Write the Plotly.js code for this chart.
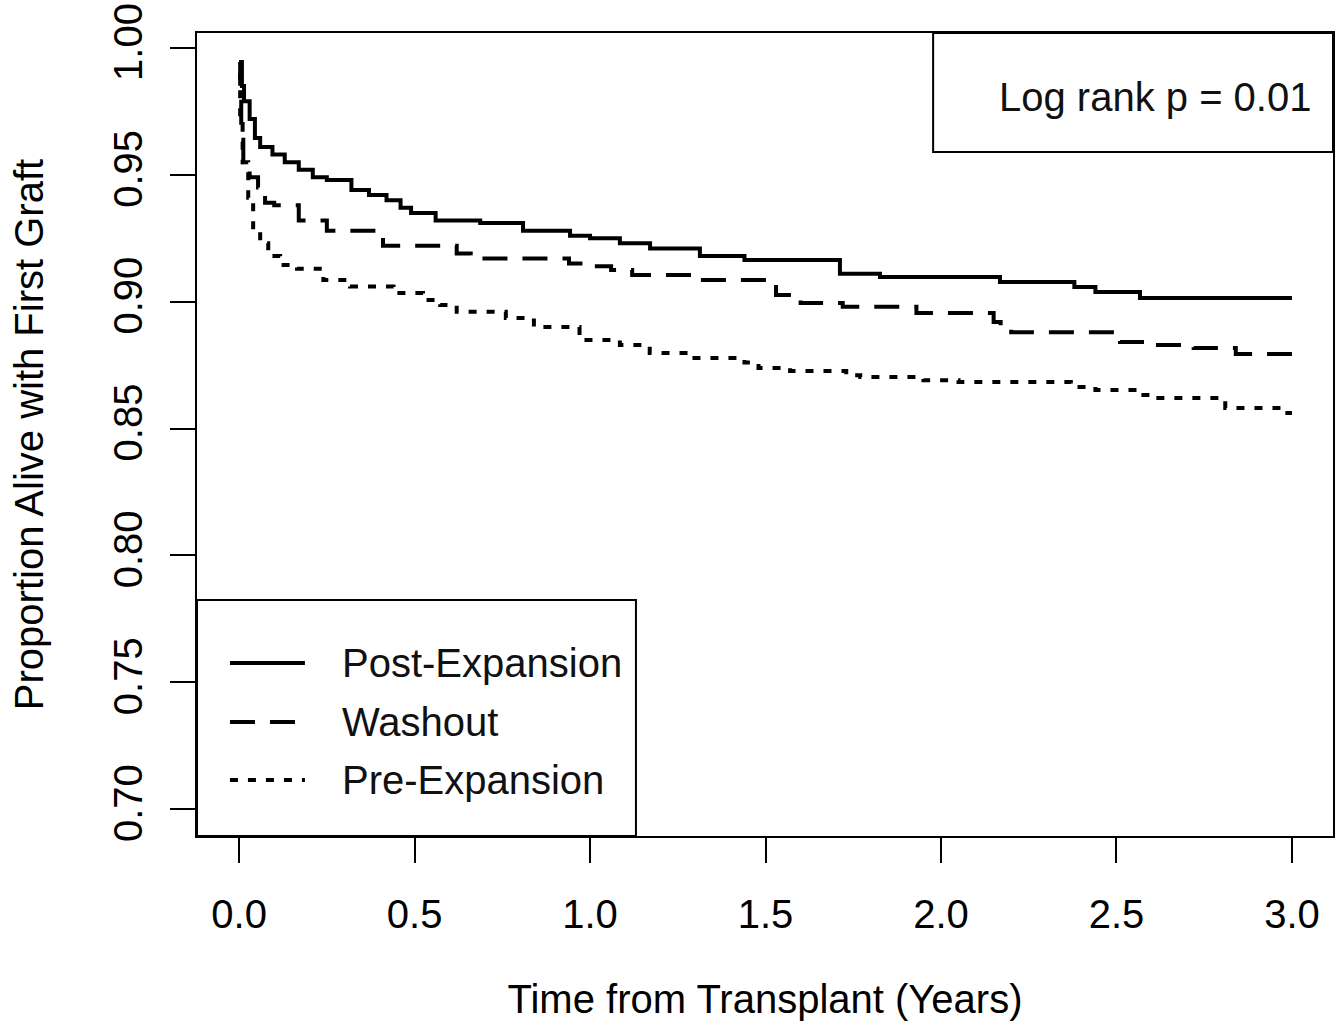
<!DOCTYPE html>
<html>
<head>
<meta charset="utf-8">
<script src="https://cdn.plot.ly/plotly-3.0.1.min.js"></script>
<style>html,body{margin:0;padding:0;background:#fff;}#chart{width:1344px;height:1034px;}</style>
</head>
<body>
<div id="chart"></div>
<script>
// Kaplan-Meier step data (time in years, survival proportion)
const postTime = [0, 0.008, 0.014, 0.030, 0.045, 0.060, 0.095, 0.130, 0.170, 0.210, 0.250, 0.320, 0.370, 0.420, 0.460, 0.490, 0.560, 0.687, 0.809, 0.943, 1.000, 1.085, 1.171, 1.313, 1.440, 1.712, 1.826, 2.168, 2.380, 2.440, 2.567, 3.000];
const postSurv = [0.9945, 0.985, 0.979, 0.972, 0.9645, 0.961, 0.958, 0.955, 0.952, 0.949, 0.948, 0.944, 0.942, 0.940, 0.937, 0.935, 0.932, 0.931, 0.928, 0.926, 0.925, 0.923, 0.921, 0.918, 0.9164, 0.911, 0.9097, 0.9078, 0.9058, 0.9038, 0.9015, 0.9015];

const washTime = [0, 0.003, 0.006, 0.012, 0.030, 0.054, 0.074, 0.100, 0.170, 0.250, 0.410, 0.620, 0.660, 0.940, 1.000, 1.060, 1.120, 1.300, 1.530, 1.600, 1.720, 1.930, 2.150, 2.170, 2.200, 2.510, 2.610, 2.720, 2.840, 3.000];
const washSurv = [0.9945, 0.985, 0.969, 0.955, 0.949, 0.945, 0.939, 0.938, 0.932, 0.928, 0.922, 0.919, 0.917, 0.915, 0.914, 0.9125, 0.9105, 0.9085, 0.9026, 0.8995, 0.898, 0.8955, 0.892, 0.889, 0.888, 0.8841, 0.8829, 0.8817, 0.8794, 0.8794];

const preTime = [0, 0.003, 0.010, 0.026, 0.040, 0.060, 0.083, 0.117, 0.165, 0.240, 0.316, 0.440, 0.524, 0.573, 0.620, 0.760, 0.840, 0.970, 1.085, 1.170, 1.280, 1.440, 1.480, 1.570, 1.730, 1.770, 1.950, 2.050, 2.370, 2.440, 2.570, 2.600, 2.810, 2.980, 3.000];
const preSurv = [0.990, 0.970, 0.955, 0.941, 0.928, 0.923, 0.918, 0.9145, 0.913, 0.9085, 0.906, 0.9034, 0.9007, 0.8987, 0.896, 0.8936, 0.890, 0.8849, 0.8829, 0.8798, 0.8778, 0.876, 0.8739, 0.8727, 0.871, 0.8703, 0.869, 0.8683, 0.8664, 0.8652, 0.8632, 0.862, 0.8581, 0.8561, 0.8561];

const seriesNames = ["Post-Expansion", "Washout", "Pre-Expansion"];
const seriesDash = ["solid", "25px,15px", "8px,10px"];
const xTicks = [0, 0.5, 1.0, 1.5, 2.0, 2.5, 3.0];
const yTicks = [0.70, 0.75, 0.80, 0.85, 0.90, 0.95, 1.00];
const pValueText = "Log rank p = 0.01";

const FONT = "Liberation Sans, Arial, Helvetica, sans-serif";
const FS = 40;

const xs = [postTime, washTime, preTime];
const ys = [postSurv, washSurv, preSurv];
const traces = seriesNames.map((n, i) => ({
  x: xs[i], y: ys[i], name: n, mode: "lines", showlegend: false,
  line: {shape: "hv", color: "#000", width: 4, dash: seriesDash[i]}
}));

// manual R-style legend (box, long line samples, labels)
const legRowsY = [0.2154, 0.1420, 0.0697];
const shapes = [
  {type: "rect", xref: "paper", yref: "paper", x0: 0.648, x1: 1, y0: 0.8518, y1: 1, line: {color: "#000", width: 2}, fillcolor: "rgba(0,0,0,0)"},
  {type: "rect", xref: "paper", yref: "paper", x0: 0, x1: 0.3864, y0: 0, y1: 0.2939, line: {color: "#000", width: 2}, fillcolor: "#fff", layer: "above"}
];
const annotations = [
  {xref: "paper", yref: "paper", x: 0.9824, y: 0.920, xanchor: "right", yanchor: "middle", showarrow: false, text: pValueText, font: {family: FONT, size: FS, color: "#111"}}
];
seriesNames.forEach((n, i) => {
  shapes.push({type: "line", xref: "paper", yref: "paper", x0: 0.029, x1: 0.095, y0: legRowsY[i], y1: legRowsY[i], line: {color: "#000", width: 4, dash: seriesDash[i]}, layer: "above"});
  annotations.push({xref: "paper", yref: "paper", x: 0.1259, y: legRowsY[i], xanchor: "left", yanchor: "middle", showarrow: false, text: n, font: {family: FONT, size: FS, color: "#111"}});
});

const layout = {
  width: 1344, height: 1034,
  margin: {l: 197, r: 11, t: 33, b: 198},
  paper_bgcolor: "#fff", plot_bgcolor: "#fff",
  font: {family: FONT, size: FS, color: "#000"},
  showlegend: false,
  xaxis: {
    range: [-0.12, 3.117], tickvals: xTicks, tickformat: ".1f",
    ticks: "outside", ticklen: 25, tickwidth: 2, tickcolor: "#000",
    showline: true, linecolor: "#000", linewidth: 2, mirror: true,
    showgrid: false, zeroline: false, ticklabelstandoff: 17,
    title: {text: "Time from Transplant (Years)", font: {family: FONT, size: FS}, standoff: 50}
  },
  yaxis: {
    range: [0.6894, 1.0059], tickvals: yTicks, tickformat: ".2f", tickangle: -90,
    ticks: "outside", ticklen: 25, tickwidth: 2, tickcolor: "#000",
    showline: true, linecolor: "#000", linewidth: 2, mirror: true,
    showgrid: false, zeroline: false, ticklabelstandoff: 12,
    title: {text: "Proportion Alive with First Graft", font: {family: FONT, size: FS}, standoff: 50}
  },
  shapes: shapes,
  annotations: annotations
};

Plotly.newPlot("chart", traces, layout, {staticPlot: true, displayModeBar: false});
</script>
</body>
</html>
